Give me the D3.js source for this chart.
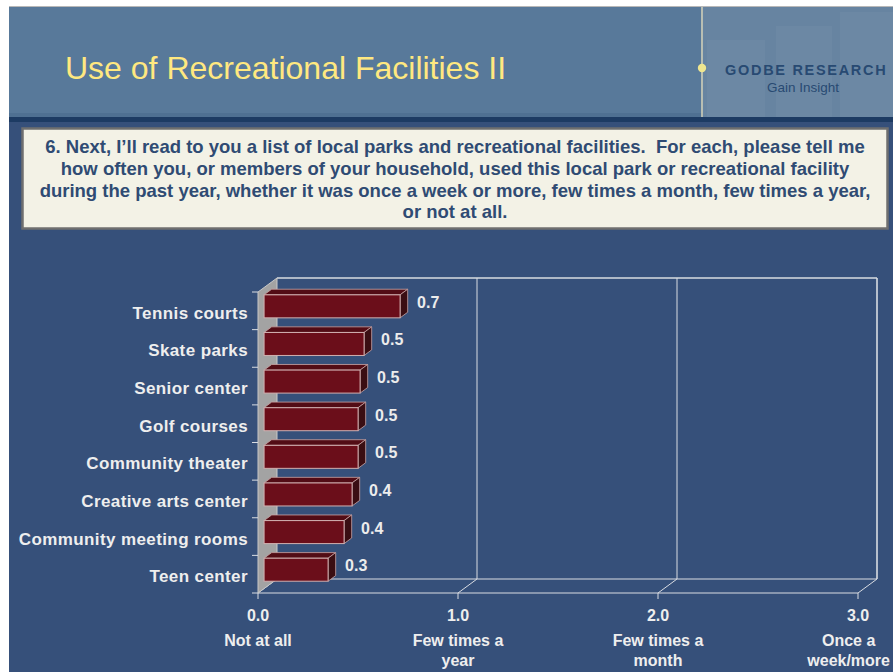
<!DOCTYPE html>
<html>
<head>
<meta charset="utf-8">
<script src="https://cdn.jsdelivr.net/npm/d3@7/dist/d3.min.js"></script>
<style>
  html, body { margin: 0; padding: 0; background: #ffffff; }
  svg { display: block; }
  text { font-family: "Liberation Sans", Arial, sans-serif; }
  .question { white-space: pre; }
</style>
</head>
<body>
<svg id="chart" width="893" height="672"></svg>
<script>
// ---- data ----
const categories = [
  "Tennis courts",
  "Skate parks",
  "Senior center",
  "Golf courses",
  "Community theater",
  "Creative arts center",
  "Community meeting rooms",
  "Teen center"
];
const meanUse = [0.68, 0.50, 0.48, 0.47, 0.47, 0.44, 0.40, 0.32];
const tickValues = [0, 1, 2, 3];
const tickNames = [
  ["Not at all"],
  ["Few times a", "year"],
  ["Few times a", "month"],
  ["Once a", "week/more"]
];
const titleText = "Use of Recreational Facilities II";
const questionLines = [
  "6. Next, I\u2019ll read to you a list of local parks and recreational facilities.  For each, please tell me",
  "how often you, or members of your household, used this local park or recreational facility",
  "during the past year, whether it was once a week or more, few times a month, few times a year,",
  "or not at all."
];

const svg = d3.select("#chart");
const W = 893, H = 672;

// ---- slide background ----
svg.append("rect").attr("x", 9).attr("y", 6).attr("width", W - 9).attr("height", H - 6)
  .attr("fill", "#36507a");
svg.append("line").attr("x1", 9).attr("x2", W).attr("y1", 6.5).attr("y2", 6.5)
  .attr("stroke", "#b8b8b8").attr("stroke-width", 1);

// header band
svg.append("rect").attr("x", 9).attr("y", 7).attr("width", W - 9).attr("height", 106)
  .attr("fill", "#58799a");
svg.append("rect").attr("x", 9).attr("y", 113).attr("width", W - 9).attr("height", 4)
  .attr("fill", "#4f7092");
svg.append("rect").attr("x", 9).attr("y", 117).attr("width", W - 9).attr("height", 5)
  .attr("fill", "#1d3b63");

// logo panel
const logo = svg.append("g");
logo.append("rect").attr("x", 703).attr("y", 7).attr("width", W - 703).attr("height", 110)
  .attr("fill", "#6784a1");
[[707, 40, 58, 77], [776, 26, 56, 91], [840, 12, 53, 105]].forEach(r => {
  logo.append("rect").attr("x", r[0]).attr("y", r[1]).attr("width", r[2]).attr("height", r[3])
    .attr("fill", "#ffffff").attr("opacity", 0.035);
});
logo.append("line").attr("x1", 702).attr("x2", 702).attr("y1", 7).attr("y2", 117)
  .attr("stroke", "#d9d6bb").attr("stroke-width", 1.5);
logo.append("circle").attr("cx", 702).attr("cy", 68).attr("r", 4.2).attr("fill", "#efe68f");
logo.append("text").attr("x", 725).attr("y", 74.5)
  .attr("font-size", 14.5).attr("font-weight", "bold").attr("letter-spacing", 1.7)
  .attr("fill", "#284a72").text("GODBE RESEARCH");
logo.append("text").attr("x", 803).attr("y", 92).attr("text-anchor", "middle")
  .attr("font-size", 13.5).attr("fill", "#284a72").text("Gain Insight");

// title
svg.append("text").attr("x", 65).attr("y", 79)
  .attr("font-size", 32).attr("fill", "#ffe880").text(titleText);

// question box
svg.append("rect").attr("x", 22.5).attr("y", 128.5).attr("width", 865).attr("height", 100)
  .attr("fill", "#f3f2e6").attr("stroke", "#6f6f6f").attr("stroke-width", 2.5);
svg.append("g").selectAll("text").data(questionLines).join("text")
  .attr("class", "question")
  .attr("x", 455).attr("y", (d, i) => 153 + i * 21.8)
  .attr("text-anchor", "middle").attr("font-size", 18.5).attr("font-weight", "bold")
  .attr("fill", "#2f4b73").text(d => d);

// ---- 3D bar chart ----
const DX = 19, DY = -14;           // depth offset of the back wall
const x = d3.scaleLinear().domain([0, 3]).range([258, 858]);
const y = d3.scaleBand().domain(categories).range([292, 593]);
const fmt = d3.format(".1f");
const data = categories.map((c, i) => ({ name: c, value: meanUse[i] }));

const chart = svg.append("g");
const lineCol = "#d9dce2";
const yTop = y.range()[0], yBot = y.range()[1];

// back wall outline and gridlines
chart.append("line").attr("x1", x(0) + DX).attr("x2", x(3) + DX)
  .attr("y1", yTop + DY).attr("y2", yTop + DY)
  .attr("stroke", lineCol).attr("stroke-width", 1.6);
chart.selectAll(".grid").data(tickValues.slice(1)).join("line")
  .attr("x1", d => x(d) + DX).attr("x2", d => x(d) + DX)
  .attr("y1", yTop + DY).attr("y2", yBot + DY)
  .attr("stroke", lineCol).attr("stroke-width", d => d === 3 ? 1.6 : 1);

// floor
chart.append("line").attr("x1", x(0) + DX).attr("x2", x(3) + DX)
  .attr("y1", yBot + DY).attr("y2", yBot + DY)
  .attr("stroke", lineCol).attr("stroke-width", 1.2);
chart.append("line").attr("x1", x(0)).attr("x2", x(3))
  .attr("y1", yBot).attr("y2", yBot)
  .attr("stroke", lineCol).attr("stroke-width", 1.2);
chart.selectAll(".diag").data(tickValues).join("line")
  .attr("x1", d => x(d)).attr("x2", d => x(d) + DX)
  .attr("y1", yBot).attr("y2", yBot + DY)
  .attr("stroke", lineCol).attr("stroke-width", 1);
chart.selectAll(".tick").data(tickValues).join("line")
  .attr("x1", d => x(d)).attr("x2", d => x(d))
  .attr("y1", yBot).attr("y2", yBot + 6)
  .attr("stroke", lineCol).attr("stroke-width", 1);

// left side wall
chart.append("path")
  .attr("d", `M${x(0)},${yTop} L${x(0) + DX},${yTop + DY} L${x(0) + DX},${yBot + DY} L${x(0)},${yBot} Z`)
  .attr("fill", "#a3a3a3").attr("stroke", "#c8c8c8").attr("stroke-width", 1);
chart.selectAll(".ytick").data(d3.range(categories.length + 1)).join("line")
  .attr("x1", x(0) - 6).attr("x2", x(0))
  .attr("y1", i => yTop + i * y.step()).attr("y2", i => yTop + i * y.step())
  .attr("stroke", lineCol).attr("stroke-width", 1);

// bars
const f0 = 0.32, f1 = 0.72;         // front / back depth fractions of a bar
const bh = 23;                      // bar thickness in the front plane
const bars = chart.selectAll(".bar").data(data).join("g");
bars.each(function (d) {
  const g = d3.select(this);
  const cy = y(d.name) + y.bandwidth() / 2;
  const x0 = x(0) + f0 * DX, x1 = x(d.value) + f0 * DX;
  const y0 = cy - bh / 2 + f0 * DY, y1 = y0 + bh;
  const ddx = (f1 - f0) * DX, ddy = (f1 - f0) * DY;
  // top face
  g.append("path")
    .attr("d", `M${x0},${y0} L${x0 + ddx},${y0 + ddy} L${x1 + ddx},${y0 + ddy} L${x1},${y0} Z`)
    .attr("fill", "#520c15").attr("stroke", "#caa5a5").attr("stroke-width", 0.8);
  // end face
  g.append("path")
    .attr("d", `M${x1},${y0} L${x1 + ddx},${y0 + ddy} L${x1 + ddx},${y1 + ddy} L${x1},${y1} Z`)
    .attr("fill", "#3a0e13").attr("stroke", "#caa5a5").attr("stroke-width", 0.8);
  // front face
  g.append("rect").attr("x", x0).attr("y", y0).attr("width", x1 - x0).attr("height", bh)
    .attr("fill", "#6b0e1a").attr("stroke", "#d2b0b0").attr("stroke-width", 1);
  // value label
  g.append("text").attr("x", x1 + 17).attr("y", cy - 3)
    .attr("font-size", 16).attr("font-weight", "bold").attr("fill", "#ececec")
    .text(fmt(d.value));
});

// category labels
chart.selectAll(".cat").data(categories).join("text")
  .attr("x", 248).attr("y", d => y(d) + y.bandwidth() / 2 + 8)
  .attr("text-anchor", "end").attr("font-size", 17).attr("font-weight", "bold")
  .attr("letter-spacing", 0.4).attr("fill", "#eeeeee").text(d => d);

// x tick values and scale names
chart.selectAll(".tv").data(tickValues).join("text")
  .attr("x", d => x(d)).attr("y", 621).attr("text-anchor", "middle")
  .attr("font-size", 16).attr("font-weight", "bold").attr("fill", "#eeeeee")
  .text(d => d3.format(".1f")(d));
tickValues.forEach((v, i) => {
  const t = chart.append("text").attr("text-anchor", "middle")
    .attr("font-size", 16).attr("font-weight", "bold").attr("fill", "#eeeeee");
  const spans = t.selectAll("tspan").data(tickNames[i]).join("tspan")
    .attr("y", (d, j) => 646 + j * 20).text(d => d);
  // keep the widest line inside the slide's right edge
  let wMax = 0;
  spans.each(function () { wMax = Math.max(wMax, this.getComputedTextLength()); });
  const cx = Math.min(x(v), W - 3 - wMax / 2);
  spans.attr("x", cx);
});
</script>
</body>
</html>
